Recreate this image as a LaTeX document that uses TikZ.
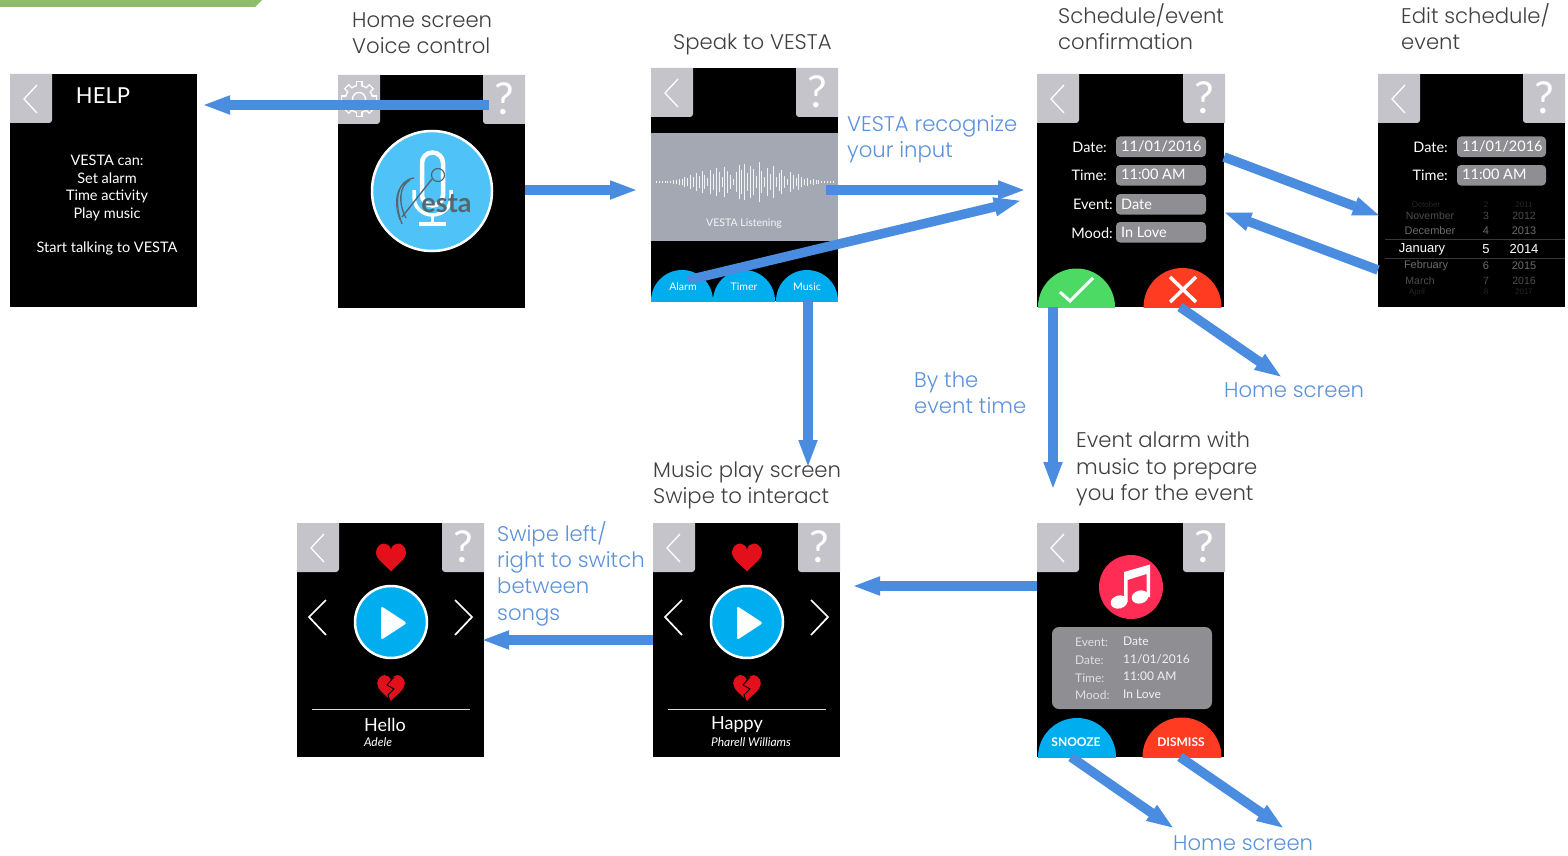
\documentclass[tikz,border=0pt]{standalone}
\usepackage{fontspec}
\setmainfont{Lato}
\newfontfamily\labfont{Poppins Light}
\newfontfamily\pickfont{Liberation Sans}
\usetikzlibrary{arrows.meta,calc}
\definecolor{flowblue}{HTML}{4A8CDF}
\definecolor{labblue}{HTML}{5B92DC}
\definecolor{labdark}{HTML}{404040}
\definecolor{btngrey}{HTML}{C4C4CA}
\definecolor{fieldgrey}{HTML}{8E8E93}
\definecolor{bandgrey}{HTML}{A3A8B2}
\definecolor{skyblue}{HTML}{00AEEF}
\definecolor{vestablue}{HTML}{4FC3F7}
\definecolor{okgreen}{HTML}{4CD964}
\definecolor{nored}{HTML}{FF3B22}
\definecolor{heartred}{HTML}{E30F1B}
\definecolor{notepink}{HTML}{FF2D55}
\definecolor{topgreen}{HTML}{8FBC6A}
\definecolor{logogrey}{HTML}{56666F}
\tikzset{
  screenbox/.style={fill=black,minimum width=187pt,minimum height=233pt,inner sep=0,outer sep=0,anchor=north west},
  flow/.style={draw=flowblue,line width=9.5pt,shorten >=-3pt,-{Triangle[length=28pt,width=17pt]}},
  labtext/.style={anchor=west,align=left,inner sep=0,text=labdark,font=\labfont\fontsize{21.2}{26.3}\selectfont},
  bluetext/.style={labtext,text=labblue},
  scrtext/.style={text=white,inner sep=0,font=\fontsize{14.5}{17}\selectfont},
  fieldbox/.style={fill=fieldgrey,rounded corners=4pt},
  fieldtext/.style={text=white,inner sep=0,anchor=west,font=\fontsize{14.5}{17}\selectfont},
  thinwhite/.style={draw=white,line width=1.3pt},
}
\newcommand\backb[2]{\begin{scope}[shift={(#1,#2)}]
  \fill[btngrey] (0,0) -- (42,0) [rounded corners=3pt] -- (42,49) [sharp corners] -- (0,49) -- cycle;
  \draw[thinwhite] (27,11) -- (14,25) -- (27,39);\end{scope}}
\newcommand\helpb[3]{\begin{scope}[shift={(#1,#2)}]
  \fill[btngrey] (42,0) -- (0,0) [rounded corners=3pt] -- (0,49) [sharp corners] -- (42,49) -- cycle;
  \node[text=white,inner sep=0,font=\fontsize{44}{44}\selectfont] (#3) at (21,24) {?};\end{scope}}
\newcommand\dome[4]{\begin{scope}\clip ({#2-#3-1},#4) rectangle ({#2+#3+1},{#4-#3-1});
  \fill[#1] (#2,#4) circle[radius=#3pt];\end{scope}}
\newcommand\heartshape[3]{\fill[heartred,shift={(#1,#2)},scale=#3] (0,14) .. controls (-6,7) and (-15,2) .. (-15,-5) .. controls (-15,-11) and (-10,-14) .. (-7,-14) .. controls (-4,-14) and (-1,-12) .. (0,-8) .. controls (1,-12) and (4,-14) .. (7,-14) .. controls (10,-14) and (15,-11) .. (15,-5) .. controls (15,2) and (6,7) .. (0,14) -- cycle;}
\newcommand\player[1]{\begin{scope}[shift={(#1,0)}]
  \heartshape{94}{557.5}{1}
  \fill[skyblue,draw=white,line width=2.5pt] (94,622) circle[radius=36pt];
  \fill[white,rounded corners=2.5pt] (84,606) -- (110,623) -- (84,640) -- cycle;
  \draw[white,line width=1.7pt] (29,600) -- (12,617) -- (29,635);
  \draw[white,line width=1.7pt] (158,600) -- (175,617) -- (158,635);
  \heartshape{94}{688}{.92}
  \draw[black,line width=.9pt,shift={(94,688)}] (3,-11) -- (-4,-3) -- (3,1) -- (-3,7) -- (-1,13);
  \draw[white!85!black,line width=.8pt] (15,709) -- (173,709);
\end{scope}}
\begin{document}
\begin{tikzpicture}[x=1pt,y=-1pt]
\useasboundingbox (0,0) rectangle (1568,856);
\fill[white] (0,0) rectangle (1568,856);
\fill[topgreen] (0,0) -- (262,0) -- (255,7) -- (0,7) -- cycle;

% ---------- screens
\node[screenbox] (help) at (10,74) {};
\node[screenbox] (home) at (338,75) {};
\node[screenbox] (speak) at (651,68) {};
\node[screenbox] (confirm) at (1037,74) {};
\node[screenbox] (edit) at (1378,74) {};
\node[screenbox,minimum height=234pt] (musicA) at (297,523) {};
\node[screenbox,minimum height=234pt] (musicB) at (653,523) {};
\node[screenbox,minimum height=234pt] (alarm) at (1037,523) {};

% ---------- help screen
\backb{10}{74}
\node[text=white,inner sep=0,font=\fontsize{22}{24}\selectfont] (helptitle) at (103,96) {HELP};
\node[scrtext,align=center,font=\fontsize{14.5}{17.45}\selectfont,anchor=north] (helpbody) at (107,155) {VESTA can:\\Set alarm\\Time activity\\Play music\\[17.45pt]Start talking to VESTA};

% ---------- home screen
\fill[btngrey] (338,75) -- (380,75) [rounded corners=3pt] -- (380,124) [sharp corners] -- (338,124) -- cycle;
\begin{scope}[shift={(359,99)}]
  \foreach \a in {0,45,...,315}{\fill[white,rotate=\a] (-3.5,-18) rectangle (3.5,-11);}
  \fill[btngrey,draw=white,line width=1.3pt] (0,0) circle[radius=13.5pt];
  \draw[white,line width=1.3pt] (0,0) circle[radius=6.5pt];
  \foreach \a in {0,45,...,315}{\fill[btngrey,rotate=\a] (-2,-16.7) rectangle (2,-12);}
\end{scope}
\helpb{483}{75}{hq}
\fill[vestablue,draw=white,line width=2.5pt] (432,191) circle[radius=60pt];
\draw[white,line width=4.5pt] (422,163) -- (422,195) arc[start angle=180,end angle=360,radius=10.5pt] -- (443,163) arc[start angle=0,end angle=180,radius=10.5pt];
\draw[white,line width=3.5pt] (414,190) -- (414,197) .. controls (414,208) and (423,215) .. (432.5,215) .. controls (442,215) and (451,208) .. (451,197) -- (451,190);
\draw[white,line width=3.5pt] (432.5,215) -- (432.5,223);
\draw[white,line width=4pt] (419,224) -- (446,224);
\draw[logogrey,line width=1.4pt] (402,217) -- (432,179);
\draw[logogrey,line width=1.2pt] (438,175) circle[radius=6.5pt];
\draw[logogrey,line width=1.3pt] (414,178) .. controls (398,180) and (393,200) .. (402,224);
\draw[logogrey,line width=1.3pt] (410,180) .. controls (399,186) and (398,203) .. (406,218);
\draw[logogrey,line width=.9pt] (405,183) .. controls (394,190) and (395,208) .. (400,220);
\node[text=logogrey,inner sep=0,font=\bfseries\fontsize{27}{27}\selectfont] (esta) at (446.5,204) {esta};

% ---------- speak screen
\backb{651}{68}
\helpb{796}{68}{sq}
\fill[bandgrey] (651,133) rectangle (838,241);
\foreach \h [count=\i] in {1,1,1,1,1,1,2,2,3,3,5,4,7,5,9,6,11,7,4,12,8,14,10,5,15,11,7,3,10,17,12,18,9,16,13,6,20,11,5,14,8,16,5,9,12,6,3,10,7,4,8,5,3,4,2,3,2,2,1,1,1,1,1}
  \draw[white!85!bandgrey,line width=.75pt] ({653.5+\i*2.85},{182-\h}) -- ({653.5+\i*2.85},{182+\h});
\node[text=white!90!bandgrey,inner sep=0,font=\fontsize{10.5}{12}\selectfont] (listen) at (744,224) {VESTA Listening};
\dome{skyblue}{682}{31}{301}
\dome{skyblue}{744}{31}{301}
\dome{skyblue}{807}{31}{301}
\node[scrtext,font=\fontsize{10.5}{12}\selectfont] (balarm) at (683,287) {Alarm};
\node[scrtext,font=\fontsize{10.5}{12}\selectfont] (btimer) at (744,287) {Timer};
\node[scrtext,font=\fontsize{10.5}{12}\selectfont] (bmusic) at (807,287) {Music};

% ---------- confirm screen
\backb{1037}{74}
\helpb{1183}{74}{cq}
\fill[fieldbox] (1116,136.5) rectangle (1206,157);
\fill[fieldbox] (1116,165) rectangle (1206,185.5);
\fill[fieldbox] (1116,194) rectangle (1206,214.5);
\fill[fieldbox] (1116,222) rectangle (1206,242.5);
\node[scrtext,anchor=east] (cl1) at (1107,147) {Date:};
\node[scrtext,anchor=east] (cl2) at (1107,175) {Time:};
\node[scrtext,anchor=east] (cl3) at (1113,204) {Event:};
\node[scrtext,anchor=east] (cl4) at (1113,233) {Mood:};
\node[fieldtext] (cv1) at (1121,146.5) {11/01/2016};
\node[fieldtext] (cv2) at (1121,174.5) {11:00 AM};
\node[fieldtext] (cv3) at (1121,204) {Date};
\node[fieldtext] (cv4) at (1121,232) {In Love};
\dome{okgreen}{1076.5}{38.5}{307}
\dome{nored}{1182.5}{39}{307}
\draw[white,line width=3pt] (1060,292) -- (1070,301) -- (1093,278);
\draw[white,line width=3.5pt] (1170,277) -- (1196,302) (1196,277) -- (1170,302);

% ---------- edit screen
\backb{1378}{74}
\helpb{1523}{74}{eq}
\fill[fieldbox] (1457,136.5) rectangle (1546,157);
\fill[fieldbox] (1457,165) rectangle (1546,185.5);
\node[scrtext,anchor=east] (el1) at (1448,147) {Date:};
\node[scrtext,anchor=east] (el2) at (1448,175) {Time:};
\node[fieldtext] (ev1) at (1462,146.5) {11/01/2016};
\node[fieldtext] (ev2) at (1462,174.5) {11:00 AM};
\foreach \m/\mx/\d/\yr/\ry/\sz/\c in {October/1426/2/2011/205/8/black!85!white,November/1430/3/2012/216/10.5/black!70!white,December/1430/4/2013/231/11/black!58!white,January/1422/5/2014/249/13/white,February/1426/6/2015/266/11/black!58!white,March/1420/7/2016/281/10.5/black!70!white,April/1417/8/2017/292/8/black!85!white}{
  \node[inner sep=0,text=\c,font=\pickfont\fontsize{\sz}{\sz}\selectfont] (pm\d) at (\mx,\ry) {\m};
  \node[inner sep=0,text=\c,font=\pickfont\fontsize{\sz}{\sz}\selectfont] (pd\d) at (1486,\ry) {\d};
  \node[inner sep=0,text=\c,font=\pickfont\fontsize{\sz}{\sz}\selectfont] (py\d) at (1524,\ry) {\yr};
}
\draw[black!78!white,line width=.5pt] (1385,239) -- (1565,239) (1385,258) -- (1565,258);

% ---------- music screens
\backb{297}{523}
\helpb{442}{523}{maq}
\player{297}
\node[text=white,inner sep=0,font=\fontsize{18}{20}\selectfont] (song1) at (385,724.5) {Hello};
\node[text=white,inner sep=0,font=\itshape\fontsize{12}{14}\selectfont] (artist1) at (378,742) {Adele};
\backb{653}{523}
\helpb{798}{523}{mbq}
\player{653}
\node[text=white,inner sep=0,font=\fontsize{18}{20}\selectfont] (song2) at (737,724.5) {Happy};
\node[text=white,inner sep=0,font=\itshape\fontsize{12}{14}\selectfont] (artist2) at (751,742) {Pharell Williams};

% ---------- alarm screen
\backb{1037}{523}
\helpb{1183}{523}{aq}
\fill[notepink] (1131,587) circle[radius=32pt];
\fill[white,rotate around={15:(1119,602)}] (1119,602) ellipse (8.5pt and 6.5pt);
\fill[white,rotate around={15:(1140,597)}] (1140,597) ellipse (8.5pt and 6.5pt);
\fill[white] (1124,602) -- (1124,572) -- (1150,564.5) -- (1150,597) -- (1146.5,597) -- (1146.5,574) -- (1127.5,580) -- (1127.5,602) -- cycle;
\fill[fieldbox,rounded corners=7pt] (1052,627) rectangle (1212,709);
\foreach \lb/\vl/\ly/\vy [count=\i] in {Event:/Date/642/641,Date:/11\slash 01\slash 2016/660/659,Time:/11:00 AM/678/676,Mood:/In Love/695/694}{
  \node[inner sep=0,anchor=west,text=white!88!black,font=\fontsize{12}{14}\selectfont] (al\i) at (1075,\ly) {\lb};
  \node[inner sep=0,anchor=west,text=white!95!black,font=\fontsize{12}{14}\selectfont] (av\i) at (1123,\vy) {\vl};
}
\dome{skyblue}{1077}{39}{757}
\dome{nored}{1182}{39.5}{757}
\node[text=white,inner sep=0,font=\bfseries\fontsize{12}{14}\selectfont] (snooze) at (1076,742) {SNOOZE};
\node[text=white,inner sep=0,font=\bfseries\fontsize{12}{14}\selectfont] (dismiss) at (1181,742) {DISMISS};

% ---------- captions
\node[labtext] (t1) at (352,33.5) {Home screen\\Voice control};
\node[labtext] (t2) at (673,44) {Speak to VESTA};
\node[labtext] (t3) at (1058,26.5) {Schedule/event\\confirmation};
\node[labtext] (t4) at (1401,26.5) {Edit schedule/\\event};
\node[bluetext] (t5) at (847,139) {VESTA recognize\\your input};
\node[bluetext] (t6) at (914,392.5) {By the\\event time};
\node[bluetext] (t7) at (1224,390.5) {Home screen};
\node[labtext] (t8) at (1076,469) {Event alarm with\\music to prepare\\you for the event};
\node[labtext] (t9) at (653,485) {Music play screen\\Swipe to interact};
\node[bluetext] (t10) at (497,573.5) {Swipe left/\\right to switch\\between\\songs};
\node[bluetext] (t11) at (1173,843.5) {Home screen};

% ---------- free arrow ends
\coordinate (homeA) at (1280,376);
\coordinate (homeB) at (1172,827);
\coordinate (homeC) at (1282,827);

% ---------- connectors
\draw[flow] ($(home.north west)+(151,30)$) -- ($(help.north east)+(8,31)$);
\draw[flow] ($(home.north east)+(0,115)$) -- ($(speak.north west)+(-16,122)$);
\draw[flow] ($(speak.north east)+(-12,122)$) -- ($(confirm.north west)+(-14,116)$);
\draw[flow] ($(speak.south west)+(37,-21)$) -- ($(confirm.north west)+(-18,127)$);
\draw[flow] ($(speak.south east)+(-30,-1)$) -- ($(musicB.north east)+(-32,-58)$);
\draw[flow] ($(confirm.north east)+(0,83)$) -- ($(edit.north west)+(0,141)$);
\draw[flow] ($(edit.north west)+(0,196)$) -- ($(confirm.north east)+(2,139)$);
\draw[flow] ($(confirm.south east)+(-44,0)$) -- (homeA);
\draw[flow] ($(confirm.south west)+(16,0)$) -- ($(alarm.north west)+(16,-36)$);
\draw[flow] ($(alarm.north west)+(0,63)$) -- ($(musicB.north east)+(15,63)$);
\draw[flow] ($(musicB.north west)+(0,117)$) -- ($(musicA.north east)+(0,117)$);
\draw[flow] ($(alarm.south west)+(34,0)$) -- (homeB);
\draw[flow] ($(alarm.south east)+(-44,0)$) -- (homeC);
\end{tikzpicture}
\end{document}
